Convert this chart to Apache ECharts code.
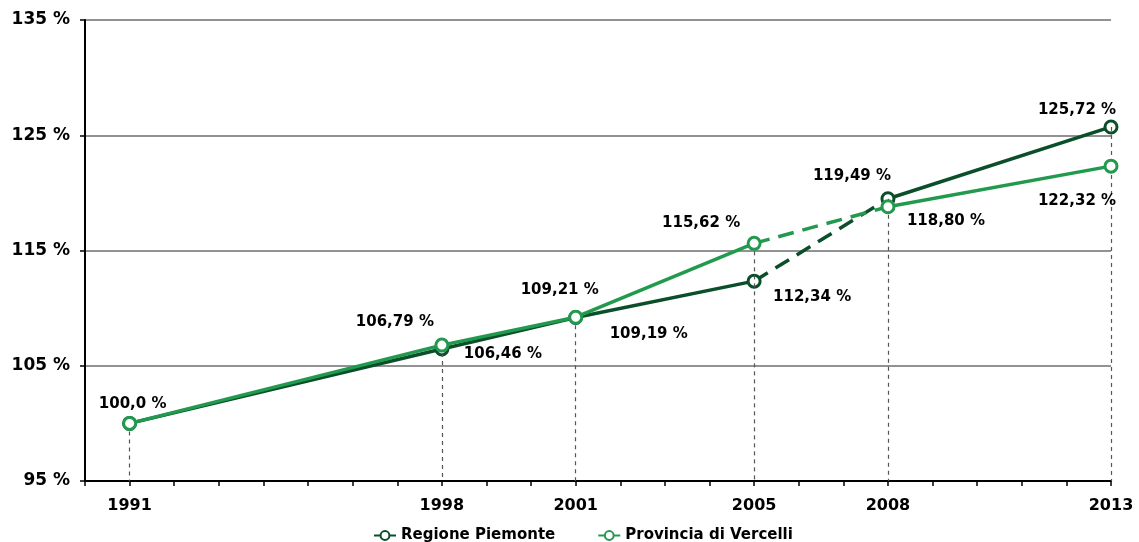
<!DOCTYPE html>
<html>
<head>
<meta charset="utf-8">
<script src="https://cdn.jsdelivr.net/npm/echarts@6/dist/echarts.min.js"></script>
<style>
  html, body { margin: 0; padding: 0; background: #fff; }
  #chart { width: 1139px; height: 542px; }
</style>
</head>
<body>
<div id="chart"></div>
<script>
var years = [1991, 1998, 2001, 2005, 2008, 2013];
var piemonte = [100.0, 106.46, 109.19, 112.34, 119.49, 125.72];
var vercelli = [100.0, 106.79, 109.21, 115.62, 118.80, 122.32];
var shownYears = [1991, 1998, 2001, 2005, 2008, 2013];
var seriesNames = ['Regione Piemonte', 'Provincia di Vercelli'];

// label offsets (px, relative to the marker), null = no label
var piemonteOffsets = [null, [61, 5], [73, 17], [58, 16], [-36, -23], [-34, -17]];
var vercelliOffsets = [[3, -19], [-47, -23], [-16, -27], [-53, -20], [58, 14], [-34, 35]];

var darkGreen = '#0a4f2a';
var lightGreen = '#229a4e';
var font = 'DejaVu Sans';

var chart = echarts.init(document.getElementById('chart'), null, { renderer: 'canvas' });

function fmt(v) {
  var s = (Math.round(v * 100) === Math.round(v) * 100) ? v.toFixed(1) : v.toFixed(2);
  return s.replace('.', ',') + ' %';
}

function points(vals, offsets, from, to) {
  var out = [];
  for (var i = from; i <= to; i++) {
    var item = { value: [years[i], vals[i]] };
    if (offsets[i]) {
      item.label = { show: true, offset: offsets[i] };
    } else {
      item.label = { show: false };
    }
    out.push(item);
  }
  return out;
}

// solid part, broken between 2005 and 2008
function solidData(vals, offsets) {
  var a = points(vals, offsets, 0, 3);
  a.push({ value: [2006.5, '-'] });
  return a.concat(points(vals, offsets, 4, 5));
}

var dropLines = [];
for (var k = 0; k < years.length; k++) {
  var peak = Math.max(piemonte[k], vercelli[k]);
  dropLines.push([{ coord: [years[k], peak] }, { coord: [years[k], 95] }]);
}

function solidSeries(name, vals, offsets, color, z) {
  return {
    name: name,
    type: 'line',
    z: z,
    data: solidData(vals, offsets),
    connectNulls: false,
    symbol: 'circle',
    symbolSize: 12,
    showAllSymbol: true,
    lineStyle: { color: color, width: 3.5 },
    itemStyle: { color: '#fff', borderColor: color, borderWidth: 3 },
    label: {
      show: true,
      position: 'inside',
      formatter: function (p) { return fmt(p.value[1]); },
      fontFamily: font,
      fontWeight: 'bold',
      fontSize: 15,
      color: '#000'
    },
    emphasis: { disabled: true },
    animation: false
  };
}

function dashedSeries(name, vals, color, z) {
  return {
    name: name,
    type: 'line',
    z: z,
    data: [[years[3], vals[3]], [years[4], vals[4]]],
    symbol: 'none',
    lineStyle: { color: color, width: 3.5, type: [16, 9] },
    emphasis: { disabled: true },
    animation: false
  };
}

var option = {
  animation: false,
  grid: { left: 85, right: 28, top: 20, bottom: 61 },
  legend: {
    data: seriesNames,
    left: 368,
    top: 523,
    itemWidth: 22,
    itemHeight: 11,
    itemGap: 42,
    textStyle: { fontFamily: font, fontWeight: 'bold', fontSize: 15, color: '#000' }
  },
  xAxis: {
    type: 'value',
    min: 1990,
    max: 2013,
    interval: 1,
    axisLine: { lineStyle: { color: '#000', width: 2 } },
    axisTick: { show: true, length: 5, lineStyle: { color: '#000', width: 1.5 } },
    splitLine: { show: false },
    axisLabel: {
      margin: 17,
      fontFamily: font,
      fontWeight: 'bold',
      fontSize: 16,
      color: '#000',
      formatter: function (v) { return shownYears.indexOf(v) >= 0 ? String(v) : ''; }
    }
  },
  yAxis: {
    type: 'value',
    min: 95,
    max: 135,
    interval: 10,
    axisLine: { show: true, lineStyle: { color: '#000', width: 2 } },
    axisTick: { show: true, length: 5, lineStyle: { color: '#000', width: 1.5 } },
    splitLine: { show: true, lineStyle: { color: '#6e6e6e', width: 1.5 } },
    axisLabel: {
      margin: 15,
      fontFamily: font,
      fontWeight: 'bold',
      fontSize: 17,
      color: '#000',
      formatter: '{value} %'
    }
  },
  series: [
    {
      name: 'drop',
      type: 'line',
      data: [],
      z: 1,
      markLine: {
        silent: true,
        symbol: 'none',
        label: { show: false },
        lineStyle: { color: '#555', width: 1.2, type: [4, 4] },
        data: dropLines,
        animation: false
      }
    },
    dashedSeries('Piemonte tratteggio', piemonte, darkGreen, 2),
    solidSeries(seriesNames[0], piemonte, piemonteOffsets, darkGreen, 3),
    dashedSeries('Vercelli tratteggio', vercelli, lightGreen, 4),
    solidSeries(seriesNames[1], vercelli, vercelliOffsets, lightGreen, 5)
  ]
};

chart.setOption(option);
window.addEventListener('resize', chart.resize);
</script>
</body>
</html>
